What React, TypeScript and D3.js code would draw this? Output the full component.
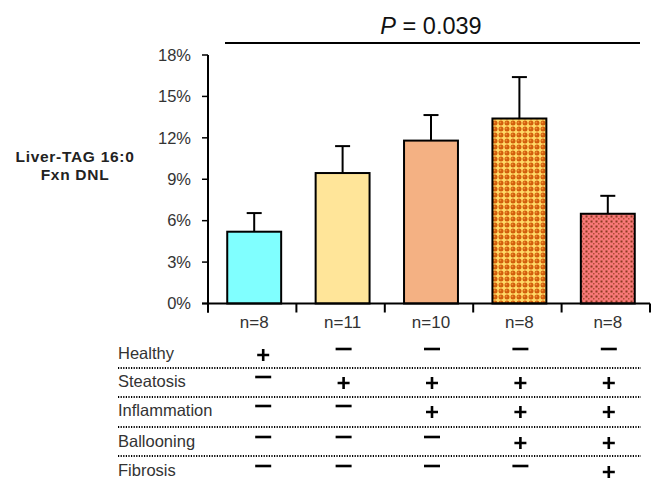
import React, { useEffect, useRef } from 'react';
import * as d3 from 'd3';

// values
const groups = ['n=8', 'n=11', 'n=10', 'n=8', 'n=8'];
const means = [5.2, 9.45, 11.8, 13.4, 6.5];
const errs = [1.35, 1.95, 1.85, 3.0, 1.3];
const fills = ['#80ffff', '#ffe599', '#f4b183', 'url(#dotsOrange)', 'url(#dotsRed)'];
const yTicks = [0, 3, 6, 9, 12, 15, 18];
const rowNames = ['Healthy', 'Steatosis', 'Inflammation', 'Ballooning', 'Fibrosis'];
const rowSigns = [
  ['+', '-', '-', '-', '-'],
  ['-', '+', '+', '+', '+'],
  ['-', '-', '+', '+', '+'],
  ['-', '-', '-', '+', '+'],
  ['-', '-', '-', '-', '+'],
];

const W = 656;
const H = 479;
const font = 'Liberation Sans, Arial, sans-serif';

const App = () => {
  const ref = useRef<SVGGElement>(null);

  useEffect(() => {
    const g = d3.select(ref.current);
    g.selectAll('*').remove();

    // groups repeat ("n=8"), so the band scale runs on indices
    const idx = d3.range(groups.length);
    const x = d3.scaleBand<number>().domain(idx).range([208, 650]).paddingInner(0).paddingOuter(0);
    const y = d3.scaleLinear().domain([0, 18]).range([303.5, 55]);
    const bw = x.bandwidth() * 0.61;
    const mid = (i: number) => (x(i) as number) + x.bandwidth() / 2 + 2;

    // y axis
    g.append('line').attr('x1', 208).attr('x2', 208).attr('y1', y(18)).attr('y2', y(0) + 9)
      .attr('stroke', '#000').attr('stroke-width', 2);
    yTicks.forEach(t => {
      g.append('line').attr('x1', 202).attr('x2', 208).attr('y1', y(t)).attr('y2', y(t))
        .attr('stroke', '#000').attr('stroke-width', 1.5);
      g.append('text').attr('x', 191).attr('y', y(t)).attr('dy', '0.35em')
        .attr('text-anchor', 'end').attr('font-size', 16.5).attr('fill', '#333')
        .attr('font-family', font).text(t + '%');
    });

    // bars + error bars
    idx.forEach(i => {
      const cx = mid(i);
      const top = y(means[i]);
      const etop = y(means[i] + errs[i]);
      g.append('line').attr('x1', cx).attr('x2', cx).attr('y1', top).attr('y2', etop)
        .attr('stroke', '#000').attr('stroke-width', 2);
      g.append('line').attr('x1', cx - 7.5).attr('x2', cx + 7.5).attr('y1', etop).attr('y2', etop)
        .attr('stroke', '#000').attr('stroke-width', 2);
      g.append('rect').attr('x', cx - bw / 2).attr('y', top).attr('width', bw)
        .attr('height', y(0) - top).attr('fill', fills[i])
        .attr('stroke', '#000').attr('stroke-width', 2);
    });

    // x axis
    g.append('line').attr('x1', 202).attr('x2', 650).attr('y1', y(0)).attr('y2', y(0))
      .attr('stroke', '#000').attr('stroke-width', 2);
    const edges = idx.map(i => x(i) as number).concat([650]);
    edges.forEach(e => {
      g.append('line').attr('x1', e).attr('x2', e).attr('y1', y(0)).attr('y2', y(0) + 9)
        .attr('stroke', '#000').attr('stroke-width', 2);
    });
    idx.forEach(i => {
      g.append('text').attr('x', mid(i)).attr('y', 322)
        .attr('dy', '0.35em').attr('text-anchor', 'middle').attr('font-size', 17)
        .attr('fill', '#333').attr('font-family', font).text(groups[i]);
    });

    // y label
    const yl = g.append('text').attr('text-anchor', 'middle')
      .attr('font-size', 15.5).attr('font-weight', 'bold').attr('letter-spacing', 0.7)
      .attr('font-family', font).attr('fill', '#222');
    yl.append('tspan').attr('x', 75).attr('y', 162).text('Liver-TAG 16:0');
    yl.append('tspan').attr('x', 75).attr('y', 180).text('Fxn DNL');

    // P value line
    g.append('line').attr('x1', 225).attr('x2', 640).attr('y1', 43).attr('y2', 43)
      .attr('stroke', '#000').attr('stroke-width', 2.2);
    const pt = g.append('text').attr('x', 431).attr('y', 34).attr('text-anchor', 'middle')
      .attr('font-size', 23.5).attr('font-family', font).attr('fill', '#111');
    pt.append('tspan').attr('font-style', 'italic').text('P');
    pt.append('tspan').text(' = 0.039');

    // disease table
    const rowY = [353, 381, 410, 441, 470];
    const lineY = [368, 397, 427, 456];
    rowNames.forEach((name, r) => {
      g.append('text').attr('x', 118).attr('y', rowY[r]).attr('dy', '0.35em')
        .attr('font-size', 16.5).attr('fill', '#333').attr('font-family', font).text(name);
      rowSigns[r].forEach((s, c) => {
        const cx = mid(c) + (c === 0 ? 9 : 1);
        if (s === '+') {
          const cy = rowY[r] + 2;
          g.append('path').attr('d', `M${cx - 6},${cy}H${cx + 6}M${cx},${cy - 6}V${cy + 6}`)
            .attr('stroke', '#000').attr('stroke-width', 2.6);
        } else {
          const cy = rowY[r] - 4;
          g.append('line').attr('x1', cx - 8).attr('x2', cx + 8).attr('y1', cy).attr('y2', cy)
            .attr('stroke', '#000').attr('stroke-width', 2.6);
        }
      });
    });
    lineY.forEach(ly => {
      g.append('line').attr('x1', 118).attr('x2', 641).attr('y1', ly).attr('y2', ly)
        .attr('stroke', '#000').attr('stroke-width', 2).attr('stroke-dasharray', '1.2,1.4');
    });
  }, []);

  return (
    <div>
      <svg width={W} height={H} style={{ position: 'absolute', left: 0, top: 0 }}>
        <defs>
          <pattern id="dotsOrange" width="6" height="6" patternUnits="userSpaceOnUse">
            <rect width="6" height="6" fill="#ffd966" />
            <circle cx="3" cy="3" r="2.5" fill="#d25e0c" />
            <circle cx="2.4" cy="2.4" r="0.9" fill="#f09030" />
          </pattern>
          <pattern id="dotsRed" width="5" height="5" patternUnits="userSpaceOnUse">
            <rect width="5" height="5" fill="#f87878" />
            <rect x="0.5" y="0.5" width="2" height="2" fill="#8a3a20" />
            <rect x="3" y="3" width="1.5" height="1.5" fill="#b04a30" />
          </pattern>
        </defs>
        <rect width={W} height={H} fill="#fff" />
        <g ref={ref} />
      </svg>
    </div>
  );
};

export default App;
